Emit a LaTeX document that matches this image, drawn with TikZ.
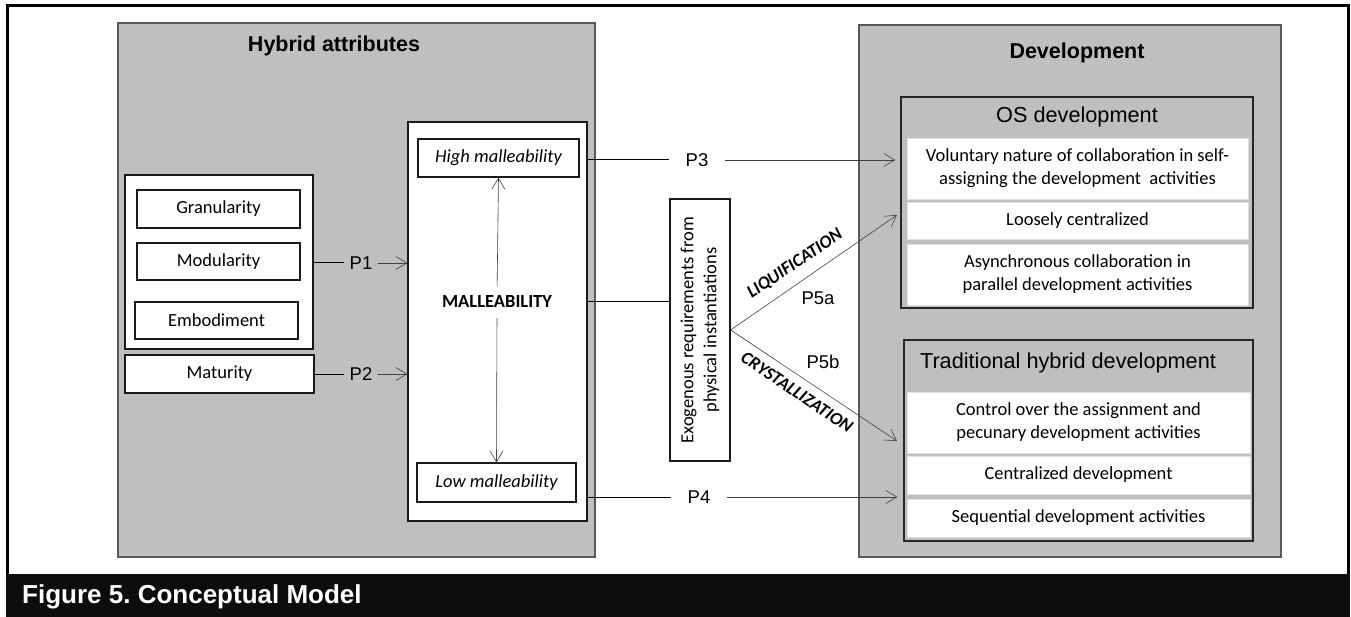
\documentclass[tikz,border=0pt]{standalone}
\usepackage{fontspec}
\setmainfont{Liberation Sans}
\newfontfamily\calfont{Carlito}
\usetikzlibrary{arrows.meta}
\definecolor{gbg}{HTML}{BFBFBF}
\definecolor{capbg}{HTML}{0D0D0D}
\frenchspacing
\begin{document}
\begin{tikzpicture}[x=1pt,y=-1pt,
 graybox/.style={draw=black!65,fill=gbg,line width=1.2pt,inner sep=0pt},
 subbox/.style={draw=black!85,fill=gbg,line width=1.3pt,inner sep=0pt},
 wbox/.style={draw=black!90,fill=white,line width=1.2pt,inner sep=0pt,font=\calfont\fontsize{18.5}{23}\selectfont,align=center},
 row/.style={draw=black!12,fill=white,line width=0.6pt,inner sep=0pt,font=\calfont\fontsize{18.5}{23}\selectfont,align=center},
 headb/.style={font=\bfseries\fontsize{21.5}{26}\selectfont,inner sep=0pt},
 headr/.style={font=\fontsize{21.7}{26}\selectfont,inner sep=0pt},
 plab/.style={font=\fontsize{18.5}{22}\selectfont,inner ysep=2pt,inner xsep=5pt},
 plabw/.style={plab,inner xsep=16pt},
 conn/.style={line width=1pt,black},
 arr/.style={line width=0.6pt,black!75,-{Straight Barb[length=11pt,width=13pt]}},
 flow/.style={font=\calfont\bfseries\itshape\fontsize{18}{20}\selectfont,inner sep=0pt},
]
\useasboundingbox (0,0) rectangle (1351,617);
% frame and caption bar
\draw[line width=3pt] (7.5,5.5) rectangle (1348.5,600);
\fill[capbg] (6,574) rectangle (1350,617);
\node[anchor=west,text=white,font=\bfseries\fontsize{26}{30}\selectfont,inner sep=0pt] (cap) at (22,597) {Figure 5. Conceptual Model};

% left gray box
\node[graybox,minimum width=477pt,minimum height=534pt] (hyb) at (356.5,290) {};
\node[headb] (hybt) at (334,46) {Hybrid attributes};
\node[wbox,minimum width=188pt,minimum height=174pt] (grp) at (219,262) {};
\node[wbox,minimum width=163pt,minimum height=38pt] (gran) at (218.5,209) {Granularity};
\node[wbox,minimum width=163pt,minimum height=37pt] (mod) at (218.5,261.5) {Modularity};
\node[wbox,minimum width=163pt,minimum height=37pt] (emb) at (216.5,320.5) {Embodiment};
\node[wbox,minimum width=189pt,minimum height=38pt] (mat) at (219.5,374) {Maturity};
\node[wbox,minimum width=179pt,minimum height=399pt] (mal) at (497.5,321.5) {};
\node[wbox,minimum width=161pt,minimum height=38pt,font=\calfont\itshape\fontsize{18.5}{23}\selectfont] (high) at (498.5,158) {High malleability};
\node[wbox,minimum width=159pt,minimum height=39pt,font=\calfont\itshape\fontsize{18.5}{23}\selectfont] (low) at (496.5,482.5) {Low malleability};
\node[font=\calfont\bfseries\fontsize{18.5}{23}\selectfont,inner sep=0pt] (malt) at (497,302) {MALLEABILITY};
\draw[arr,shorten <=9pt] (malt.north) -- (high.south);
\draw[arr,shorten <=10pt] (malt.south) -- (low.north);

% P1, P2
\node[plab] (p1) at (361,263) {P1};
\node[plab] (p2) at (361,374) {P2};
\draw[conn] (p1 -| grp.east) -- (p1);
\draw[arr] (p1) -- (p1 -| mal.west);
\draw[conn] (mat) -- (p2);
\draw[arr] (p2) -- (p2 -| mal.west);

% exogenous box
\node[wbox,rotate=90,minimum width=262pt,minimum height=60pt] (exo) at (700,330) {Exogenous requirements from\\physical instantiations};
\draw[conn] (malt -| mal.east) -- (malt -| exo.north);

% right gray box
\node[graybox,minimum width=422pt,minimum height=532pt] (dev) at (1070,291) {};
\node[headb] (devt) at (1077,53) {Development};
\node[subbox,minimum width=352pt,minimum height=211pt] (os) at (1077,202.5) {};
\node[headr] (ost) at (1077,117) {OS development};
\node[row,minimum width=341pt,minimum height=61pt] (o1) at (1077.5,168.5) {Voluntary nature of collaboration in self-\\assigning the development~ activities};
\node[row,minimum width=341pt,minimum height=37pt] (o2) at (1077.5,220.5) {Loosely centralized};
\node[row,minimum width=341pt,minimum height=61pt] (o3) at (1077.5,274.5) {Asynchronous collaboration in\\parallel development activities};
\node[subbox,minimum width=349pt,minimum height=201pt] (trad) at (1078.5,440.5) {};
\node[headr] (tradt) at (1068,363) {Traditional hybrid development};
\node[row,minimum width=343pt,minimum height=61pt] (t1) at (1078.5,422.5) {Control over the assignment and\\pecunary development activities};
\node[row,minimum width=343pt,minimum height=38pt] (t2) at (1078.5,475) {Centralized development};
\node[row,minimum width=343pt,minimum height=38pt] (t3) at (1078.5,518) {Sequential development activities};

% P3, P4
\node[plabw] (p3) at (697,160) {P3};
\node[plabw] (p4) at (699,497) {P4};
\draw[conn] (p3 -| mal.east) -- (p3);
\draw[arr,shorten >=5pt] (p3) -- (p3 -| os.west);
\draw[conn] (p4 -| mal.east) -- (p4);
\draw[arr,shorten >=6pt] (p4) -- (p4 -| trad.west);

% P5a, P5b
\coordinate (liqend) at (897,215);
\coordinate (cryend) at (897,441);
\draw[arr] (exo.south) -- (liqend);
\draw[arr] (exo.south) -- (cryend);
\node[flow,rotate=34] (liq) at (795,264) {LIQUIFICATION};
\node[flow,rotate=-34] (cry) at (797,392) {CRYSTALLIZATION};
\node[plab] (p5a) at (818,298) {P5a};
\node[plab] (p5b) at (823,362) {P5b};
\end{tikzpicture}
\end{document}
